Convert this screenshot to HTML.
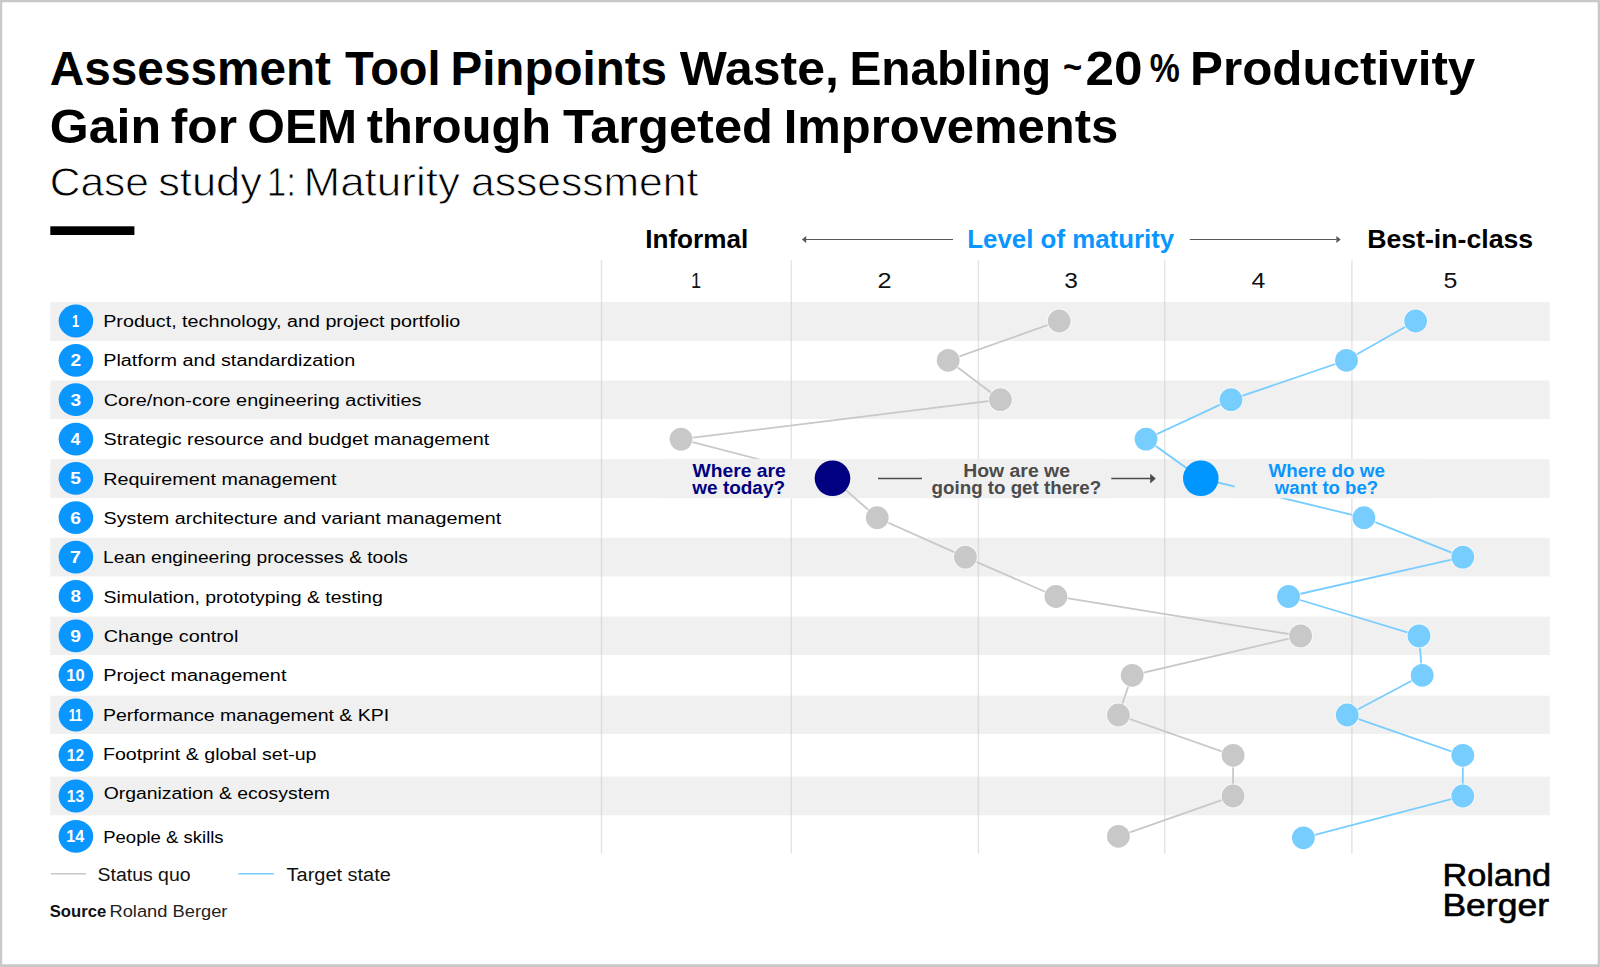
<!DOCTYPE html>
<html lang="en"><head><meta charset="utf-8"><title>Maturity assessment</title>
<style>
html,body{margin:0;padding:0}
body{width:1600px;height:967px;position:relative;overflow:hidden;background:#fff;font-family:"Liberation Sans", Arial, sans-serif}
h1,h2,p,ol,li{margin:0;padding:0;font-size:inherit;font-weight:inherit;list-style:none}
.t{position:absolute;white-space:nowrap;line-height:1;transform-origin:0 0;margin:0;padding:0;display:block}
</style></head><body>
<svg width="1600" height="967" viewBox="0 0 1600 967" style="position:absolute;left:0;top:0"><rect x="50.3" y="302" width="1499.4" height="39.0" fill="#f0f0f0"/><rect x="50.3" y="380.5" width="1499.4" height="38.5" fill="#f0f0f0"/><rect x="50.3" y="459.2" width="1499.4" height="38.8" fill="#f0f0f0"/><rect x="50.3" y="537.8" width="1499.4" height="38.6" fill="#f0f0f0"/><rect x="50.3" y="616.6" width="1499.4" height="38.4" fill="#f0f0f0"/><rect x="50.3" y="695.7" width="1499.4" height="38.3" fill="#f0f0f0"/><rect x="50.3" y="776.6" width="1499.4" height="38.7" fill="#f0f0f0"/><rect x="600.8" y="260.3" width="1.4" height="593.5" fill="#c8c8c8" fill-opacity="0.5"/><rect x="790.6" y="260.3" width="1.4" height="593.5" fill="#c8c8c8" fill-opacity="0.5"/><rect x="977.7" y="260.3" width="1.4" height="593.5" fill="#c8c8c8" fill-opacity="0.5"/><rect x="1164.0" y="260.3" width="1.4" height="593.5" fill="#c8c8c8" fill-opacity="0.5"/><rect x="1351.2" y="260.3" width="1.4" height="593.5" fill="#c8c8c8" fill-opacity="0.5"/><polyline fill="none" stroke="#c8c8c8" stroke-width="1.8" points="1059.2,321 948.2,360.3 1000.4,399.7 681,439.1 832.5,478.3 877.2,517.7 965.4,557.1 1055.9,596.5 1300.6,635.9 1132.2,675.3 1118.4,715 1233.1,755.3 1233.1,796 1118.4,836.3"/><polyline fill="none" stroke="#78cdff" stroke-width="1.8" points="1415.6,321 1346.5,360.3 1231,399.7 1146,439.1 1200.8,478.3 1363.9,517.7 1462.8,557.1 1288.5,596.5 1419,635.9 1422.2,675.3 1347.2,715 1462.8,755.3 1462.8,796 1303.4,837.8"/><rect x="662" y="458.8" width="153.3" height="39.5" fill="#f0f0f0"/><rect x="926" y="458.8" width="182.0" height="39.5" fill="#f0f0f0"/><rect x="1234.5" y="458.8" width="195.5" height="39.5" fill="#f0f0f0"/><circle cx="1059.2" cy="321" r="12.4" fill="#fff" fill-opacity="0.6"/><circle cx="1059.2" cy="321" r="11.4" fill="#c8c8c8"/><circle cx="948.2" cy="360.3" r="12.4" fill="#fff" fill-opacity="0.6"/><circle cx="948.2" cy="360.3" r="11.4" fill="#c8c8c8"/><circle cx="1000.4" cy="399.7" r="12.4" fill="#fff" fill-opacity="0.6"/><circle cx="1000.4" cy="399.7" r="11.4" fill="#c8c8c8"/><circle cx="681" cy="439.1" r="12.4" fill="#fff" fill-opacity="0.6"/><circle cx="681" cy="439.1" r="11.4" fill="#c8c8c8"/><circle cx="832.5" cy="478.3" r="17.8" fill="#000080"/><circle cx="877.2" cy="517.7" r="12.4" fill="#fff" fill-opacity="0.6"/><circle cx="877.2" cy="517.7" r="11.4" fill="#c8c8c8"/><circle cx="965.4" cy="557.1" r="12.4" fill="#fff" fill-opacity="0.6"/><circle cx="965.4" cy="557.1" r="11.4" fill="#c8c8c8"/><circle cx="1055.9" cy="596.5" r="12.4" fill="#fff" fill-opacity="0.6"/><circle cx="1055.9" cy="596.5" r="11.4" fill="#c8c8c8"/><circle cx="1300.6" cy="635.9" r="12.4" fill="#fff" fill-opacity="0.6"/><circle cx="1300.6" cy="635.9" r="11.4" fill="#c8c8c8"/><circle cx="1132.2" cy="675.3" r="12.4" fill="#fff" fill-opacity="0.6"/><circle cx="1132.2" cy="675.3" r="11.4" fill="#c8c8c8"/><circle cx="1118.4" cy="715" r="12.4" fill="#fff" fill-opacity="0.6"/><circle cx="1118.4" cy="715" r="11.4" fill="#c8c8c8"/><circle cx="1233.1" cy="755.3" r="12.4" fill="#fff" fill-opacity="0.6"/><circle cx="1233.1" cy="755.3" r="11.4" fill="#c8c8c8"/><circle cx="1233.1" cy="796" r="12.4" fill="#fff" fill-opacity="0.6"/><circle cx="1233.1" cy="796" r="11.4" fill="#c8c8c8"/><circle cx="1118.4" cy="836.3" r="12.4" fill="#fff" fill-opacity="0.6"/><circle cx="1118.4" cy="836.3" r="11.4" fill="#c8c8c8"/><circle cx="1415.6" cy="321" r="12.4" fill="#fff" fill-opacity="0.6"/><circle cx="1415.6" cy="321" r="11.4" fill="#78cdff"/><circle cx="1346.5" cy="360.3" r="12.4" fill="#fff" fill-opacity="0.6"/><circle cx="1346.5" cy="360.3" r="11.4" fill="#78cdff"/><circle cx="1231" cy="399.7" r="12.4" fill="#fff" fill-opacity="0.6"/><circle cx="1231" cy="399.7" r="11.4" fill="#78cdff"/><circle cx="1146" cy="439.1" r="12.4" fill="#fff" fill-opacity="0.6"/><circle cx="1146" cy="439.1" r="11.4" fill="#78cdff"/><circle cx="1200.8" cy="478.3" r="17.8" fill="#0096ff"/><circle cx="1363.9" cy="517.7" r="12.4" fill="#fff" fill-opacity="0.6"/><circle cx="1363.9" cy="517.7" r="11.4" fill="#78cdff"/><circle cx="1462.8" cy="557.1" r="12.4" fill="#fff" fill-opacity="0.6"/><circle cx="1462.8" cy="557.1" r="11.4" fill="#78cdff"/><circle cx="1288.5" cy="596.5" r="12.4" fill="#fff" fill-opacity="0.6"/><circle cx="1288.5" cy="596.5" r="11.4" fill="#78cdff"/><circle cx="1419" cy="635.9" r="12.4" fill="#fff" fill-opacity="0.6"/><circle cx="1419" cy="635.9" r="11.4" fill="#78cdff"/><circle cx="1422.2" cy="675.3" r="12.4" fill="#fff" fill-opacity="0.6"/><circle cx="1422.2" cy="675.3" r="11.4" fill="#78cdff"/><circle cx="1347.2" cy="715" r="12.4" fill="#fff" fill-opacity="0.6"/><circle cx="1347.2" cy="715" r="11.4" fill="#78cdff"/><circle cx="1462.8" cy="755.3" r="12.4" fill="#fff" fill-opacity="0.6"/><circle cx="1462.8" cy="755.3" r="11.4" fill="#78cdff"/><circle cx="1462.8" cy="796" r="12.4" fill="#fff" fill-opacity="0.6"/><circle cx="1462.8" cy="796" r="11.4" fill="#78cdff"/><circle cx="1303.4" cy="837.8" r="12.4" fill="#fff" fill-opacity="0.6"/><circle cx="1303.4" cy="837.8" r="11.4" fill="#78cdff"/><path d="M806 239.5H953" stroke="#5a5a5a" stroke-width="1" fill="none"/><path d="M801.9 239.5L806.2 236V243Z" fill="#555"/><path d="M1189.7 239.5H1336.5" stroke="#5a5a5a" stroke-width="1" fill="none"/><path d="M1340.7 239.5L1336.4 236V243Z" fill="#555"/><path d="M878 478.5H922" stroke="#4b4b4b" stroke-width="1.7" fill="none"/><path d="M1111.3 478.5H1151" stroke="#4b4b4b" stroke-width="1.7" fill="none"/><path d="M1155.8 478.5L1150.2 473.7V483.4Z" fill="#4b4b4b"/><path d="M51 873.7H86" stroke="#c8c8c8" stroke-width="1.4" fill="none"/><path d="M238.4 873.7H273.8" stroke="#78cdff" stroke-width="1.4" fill="none"/><rect x="50.3" y="226.3" width="84.1" height="8.7" fill="#000"/><ellipse cx="75.9" cy="321" rx="17.3" ry="16.4" fill="#0a96ff"/><ellipse cx="75.9" cy="360.3" rx="17.3" ry="16.4" fill="#0a96ff"/><ellipse cx="75.9" cy="399.7" rx="17.3" ry="16.4" fill="#0a96ff"/><ellipse cx="75.9" cy="439.1" rx="17.3" ry="16.4" fill="#0a96ff"/><ellipse cx="75.9" cy="478.3" rx="17.3" ry="16.4" fill="#0a96ff"/><ellipse cx="75.9" cy="517.7" rx="17.3" ry="16.4" fill="#0a96ff"/><ellipse cx="75.9" cy="557.1" rx="17.3" ry="16.4" fill="#0a96ff"/><ellipse cx="75.9" cy="596.5" rx="17.3" ry="16.4" fill="#0a96ff"/><ellipse cx="75.9" cy="635.9" rx="17.3" ry="16.4" fill="#0a96ff"/><ellipse cx="75.9" cy="675.3" rx="17.3" ry="16.4" fill="#0a96ff"/><ellipse cx="75.9" cy="715" rx="17.3" ry="16.4" fill="#0a96ff"/><ellipse cx="75.9" cy="755.3" rx="17.3" ry="16.4" fill="#0a96ff"/><ellipse cx="75.9" cy="796" rx="17.3" ry="16.4" fill="#0a96ff"/><ellipse cx="75.9" cy="836.4" rx="17.3" ry="16.4" fill="#0a96ff"/><path d="M0 0H1600V967H0Z M2.2 2.3V964.2H1597.7V2.3Z" fill="#c8c8c8" fill-rule="evenodd"/></svg>
<header><h1><span class="t" id="t0" style="left:49px;top:44px;font-size:48.2px;font-weight:700;color:#000;transform:translateX(0.76px) scaleX(0.9906)">Assessment</span>
<span class="t" id="t1" style="left:344px;top:44px;font-size:48.2px;font-weight:700;color:#000;transform:translateX(0.92px) scaleX(0.9749)">Tool</span>
<span class="t" id="t2" style="left:450px;top:44px;font-size:48.2px;font-weight:700;color:#000;transform:translateX(0.45px) scaleX(0.9865)">Pinpoints</span>
<span class="t" id="t3" style="left:679px;top:44px;font-size:48.2px;font-weight:700;color:#000;transform:translateX(0.86px) scaleX(1.0350)">Waste,</span>
<span class="t" id="t4" style="left:849px;top:44px;font-size:48.2px;font-weight:700;color:#000;transform:translateX(0.39px) scaleX(0.9925)">Enabling</span>
<span class="t" id="t5" style="left:1062px;top:49px;font-size:36px;font-weight:700;color:#000;transform:translateX(0.99px) scaleX(0.9100)">~</span>
<span class="t" id="t6" style="left:1085px;top:44px;font-size:48.2px;font-weight:700;color:#000;transform:translateX(0.53px) scaleX(1.0643)">20</span>
<span class="t" id="t7" style="left:1149px;top:48px;font-size:40.5px;font-weight:700;color:#000;transform:translateX(0.73px) scaleX(0.8344)">%</span>
<span class="t" id="t8" style="left:1190px;top:44px;font-size:48.2px;font-weight:700;color:#000;transform:translateX(0.09px) scaleX(1.0243)">Productivity</span>
<span class="t" id="t9" style="left:49px;top:102px;font-size:48.2px;font-weight:700;color:#000;transform:translateX(0.79px) scaleX(1.0391)">Gain</span>
<span class="t" id="t10" style="left:170px;top:102px;font-size:48.2px;font-weight:700;color:#000;transform:translateX(0.79px) scaleX(1.0305)">for</span>
<span class="t" id="t11" style="left:247px;top:102px;font-size:48.2px;font-weight:700;color:#000;transform:translateX(0.55px) scaleX(0.9963)">OEM</span>
<span class="t" id="t12" style="left:366px;top:102px;font-size:48.2px;font-weight:700;color:#000;transform:translateX(0.78px) scaleX(1.0128)">through</span>
<span class="t" id="t13" style="left:563px;top:102px;font-size:48.2px;font-weight:700;color:#000;transform:translateX(0.09px) scaleX(1.0498)">Targeted</span>
<span class="t" id="t14" style="left:783px;top:102px;font-size:48.2px;font-weight:700;color:#000;transform:translateX(0.67px) scaleX(1.0158)">Improvements</span></h1>
<h2><span class="t" id="t15" style="left:49px;top:162px;font-size:40px;font-weight:400;color:#000;transform:translateX(0.78px) scaleX(1.0607);-webkit-text-stroke:0.8px #fff">Case</span>
<span class="t" id="t16" style="left:158px;top:162px;font-size:40px;font-weight:400;color:#000;transform:translateX(0.16px) scaleX(1.0850);-webkit-text-stroke:0.8px #fff">study</span>
<span class="t" id="t17" style="left:266px;top:162px;font-size:40px;font-weight:400;color:#000;transform:translateX(0.66px) scaleX(0.8802);-webkit-text-stroke:0.8px #fff">1:</span>
<span class="t" id="t18" style="left:303px;top:162px;font-size:40px;font-weight:400;color:#000;transform:translateX(0.55px) scaleX(1.0990);-webkit-text-stroke:0.8px #fff">Maturity</span>
<span class="t" id="t19" style="left:471px;top:162px;font-size:40px;font-weight:400;color:#000;transform:translateX(0.03px) scaleX(1.0650);-webkit-text-stroke:0.8px #fff">assessment</span></h2></header>
<main><div class="scale"><span class="t" id="t20" style="left:645px;top:227px;font-size:25.3px;font-weight:700;color:#000;transform:translateX(0.19px) scaleX(1.0329)">Informal</span>
<span class="t" id="t21" style="left:967px;top:227px;font-size:25.3px;font-weight:700;color:#0a96ff;transform:translateX(0.26px) scaleX(1.0224)">Level of maturity</span>
<span class="t" id="t22" style="left:1367px;top:227px;font-size:25.3px;font-weight:700;color:#000;transform:translateX(0.14px) scaleX(1.0544)">Best-in-class</span></div>
<div class="levels"><span class="t" id="t23" style="left:690px;top:270px;font-size:22px;font-weight:400;color:#111;transform:translateX(0.94px) scaleX(0.8234)">1</span>
<span class="t" id="t24" style="left:877px;top:270px;font-size:22px;font-weight:400;color:#111;transform:translateX(0.40px) scaleX(1.1484)">2</span>
<span class="t" id="t25" style="left:1064px;top:270px;font-size:22px;font-weight:400;color:#111;transform:translateX(0.26px) scaleX(1.1147)">3</span>
<span class="t" id="t26" style="left:1251px;top:270px;font-size:22px;font-weight:400;color:#111;transform:translateX(0.51px) scaleX(1.1294)">4</span>
<span class="t" id="t27" style="left:1443px;top:270px;font-size:22px;font-weight:400;color:#111;transform:translateX(0.52px) scaleX(1.1328)">5</span></div>
<ol class="rows">
<li><span class="t" id="t42" style="left:71px;top:313px;font-size:17px;font-weight:700;color:#fff;transform:translateX(0.90px) scaleX(0.7614)">1</span><span class="t" id="t28" style="left:103px;top:313px;font-size:17.3px;font-weight:400;color:#000;transform:translateX(0.20px) scaleX(1.1412)">Product, technology, and project portfolio</span></li>
<li><span class="t" id="t43" style="left:70px;top:352px;font-size:17px;font-weight:700;color:#fff;transform:translateX(0.41px) scaleX(1.1239)">2</span><span class="t" id="t29" style="left:103px;top:352px;font-size:17.3px;font-weight:400;color:#000;transform:translateX(0.18px) scaleX(1.1461)">Platform and standardization</span></li>
<li><span class="t" id="t44" style="left:70px;top:392px;font-size:17px;font-weight:700;color:#fff;transform:translateX(0.41px) scaleX(1.1227)">3</span><span class="t" id="t30" style="left:103px;top:392px;font-size:17.3px;font-weight:400;color:#000;transform:translateX(0.73px) scaleX(1.1484)">Core/non-core engineering activities</span></li>
<li><span class="t" id="t45" style="left:70px;top:431px;font-size:17px;font-weight:700;color:#fff;transform:translateX(0.73px) scaleX(1.0099)">4</span><span class="t" id="t31" style="left:103px;top:431px;font-size:17.3px;font-weight:400;color:#000;transform:translateX(0.55px) scaleX(1.1438)">Strategic resource and budget management</span></li>
<li><span class="t" id="t46" style="left:70px;top:470px;font-size:17px;font-weight:700;color:#fff;transform:translateX(0.13px) scaleX(1.1279)">5</span><span class="t" id="t32" style="left:103px;top:471px;font-size:17.3px;font-weight:400;color:#000;transform:translateX(0.20px) scaleX(1.1404)">Requirement management</span></li>
<li><span class="t" id="t47" style="left:70px;top:510px;font-size:17px;font-weight:700;color:#fff;transform:translateX(0.25px) scaleX(1.1358)">6</span><span class="t" id="t33" style="left:103px;top:510px;font-size:17.3px;font-weight:400;color:#000;transform:translateX(0.55px) scaleX(1.1406)">System architecture and variant management</span></li>
<li><span class="t" id="t48" style="left:70px;top:549px;font-size:17px;font-weight:700;color:#fff;transform:translateX(0.04px) scaleX(1.1563)">7</span><span class="t" id="t34" style="left:103px;top:549px;font-size:17.3px;font-weight:400;color:#000;transform:translateX(0.08px) scaleX(1.1089)">Lean engineering processes &amp; tools</span></li>
<li><span class="t" id="t49" style="left:70px;top:588px;font-size:17px;font-weight:700;color:#fff;transform:translateX(0.44px) scaleX(1.1092)">8</span><span class="t" id="t35" style="left:103px;top:589px;font-size:17.3px;font-weight:400;color:#000;transform:translateX(0.59px) scaleX(1.1262)">Simulation, prototyping &amp; testing</span></li>
<li><span class="t" id="t50" style="left:70px;top:628px;font-size:17px;font-weight:700;color:#fff;transform:translateX(0.22px) scaleX(1.1358)">9</span><span class="t" id="t36" style="left:103px;top:628px;font-size:17.3px;font-weight:400;color:#000;transform:translateX(0.73px) scaleX(1.1483)">Change control</span></li>
<li><span class="t" id="t51" style="left:66px;top:667px;font-size:17px;font-weight:700;color:#fff;transform:translateX(0.23px) scaleX(0.9687)">10</span><span class="t" id="t37" style="left:103px;top:667px;font-size:17.3px;font-weight:400;color:#000;transform:translateX(0.16px) scaleX(1.1494)">Project management</span></li>
<li><span class="t" id="t52" style="left:68px;top:707px;font-size:17px;font-weight:700;color:#fff;transform:translateX(0.63px) scaleX(0.7618)">11</span><span class="t" id="t38" style="left:103px;top:707px;font-size:17.3px;font-weight:400;color:#000;transform:translateX(0.01px) scaleX(1.1287)">Performance management &amp; KPI</span></li>
<li><span class="t" id="t53" style="left:66px;top:747px;font-size:17px;font-weight:700;color:#fff;transform:translateX(0.71px) scaleX(0.9210)">12</span><span class="t" id="t39" style="left:102px;top:746px;font-size:17.3px;font-weight:400;color:#000;transform:translateX(0.98px) scaleX(1.1339)">Footprint &amp; global set-up</span></li>
<li><span class="t" id="t54" style="left:66px;top:788px;font-size:17px;font-weight:700;color:#fff;transform:translateX(0.71px) scaleX(0.9208)">13</span><span class="t" id="t40" style="left:103px;top:785px;font-size:17.3px;font-weight:400;color:#000;transform:translateX(0.66px) scaleX(1.1221)">Organization &amp; ecosystem</span></li>
<li><span class="t" id="t55" style="left:66px;top:828px;font-size:17px;font-weight:700;color:#fff;transform:translateX(0.22px) scaleX(0.9528)">14</span><span class="t" id="t41" style="left:103px;top:829px;font-size:17.3px;font-weight:400;color:#000;transform:translateX(0.22px) scaleX(1.0714)">People &amp; skills</span></li>
</ol>
<p class="note"><span class="t" id="t56" style="left:692px;top:461px;font-size:19.2px;font-weight:700;color:#000080;transform:translateX(0.44px) scaleX(1.0048)">Where are</span><span class="t" id="t57" style="left:692px;top:478px;font-size:19.2px;font-weight:700;color:#000080;transform:translateX(0.32px) scaleX(0.9884)">we today?</span></p>
<p class="note"><span class="t" id="t58" style="left:963px;top:461px;font-size:19.2px;font-weight:700;color:#4b4b4b;transform:translateX(0.23px) scaleX(1.0108)">How are we</span><span class="t" id="t59" style="left:931px;top:478px;font-size:19.2px;font-weight:700;color:#4b4b4b;transform:translateX(0.60px) scaleX(0.9764)">going to get there?</span></p>
<p class="note"><span class="t" id="t60" style="left:1268px;top:461px;font-size:19.2px;font-weight:700;color:#0a96ff;transform:translateX(0.51px) scaleX(0.9836)">Where do we</span><span class="t" id="t61" style="left:1274px;top:478px;font-size:19.2px;font-weight:700;color:#0a96ff;transform:translateX(0.80px) scaleX(0.9702)">want to be?</span></p>
<div class="legend"><span class="t" id="t62" style="left:97px;top:867px;font-size:17.6px;font-weight:400;color:#111;transform:translateX(0.55px) scaleX(1.1051)">Status quo</span><span class="t" id="t63" style="left:286px;top:867px;font-size:17.6px;font-weight:400;color:#111;transform:translateX(0.55px) scaleX(1.1349)">Target state</span></div></main>
<footer><p class="source"><span class="t" id="t64" style="left:49px;top:904px;font-size:16.9px;font-weight:700;color:#111;transform:translateX(0.76px) scaleX(0.9858)">Source</span><span class="t" id="t65" style="left:109px;top:904px;font-size:16.9px;font-weight:400;color:#222;transform:translateX(0.41px) scaleX(1.0839)">Roland Berger</span></p>
<div class="logo"><span class="t" id="t66" style="left:1442px;top:859px;font-size:32px;font-weight:400;color:#000;transform:translateX(0.47px) scaleX(1.0708);-webkit-text-stroke:0.6px #000">Roland</span><span class="t" id="t67" style="left:1442px;top:889px;font-size:32px;font-weight:400;color:#000;transform:translateX(0.43px) scaleX(1.1094);-webkit-text-stroke:0.6px #000">Berger</span></div></footer>
</body></html>
